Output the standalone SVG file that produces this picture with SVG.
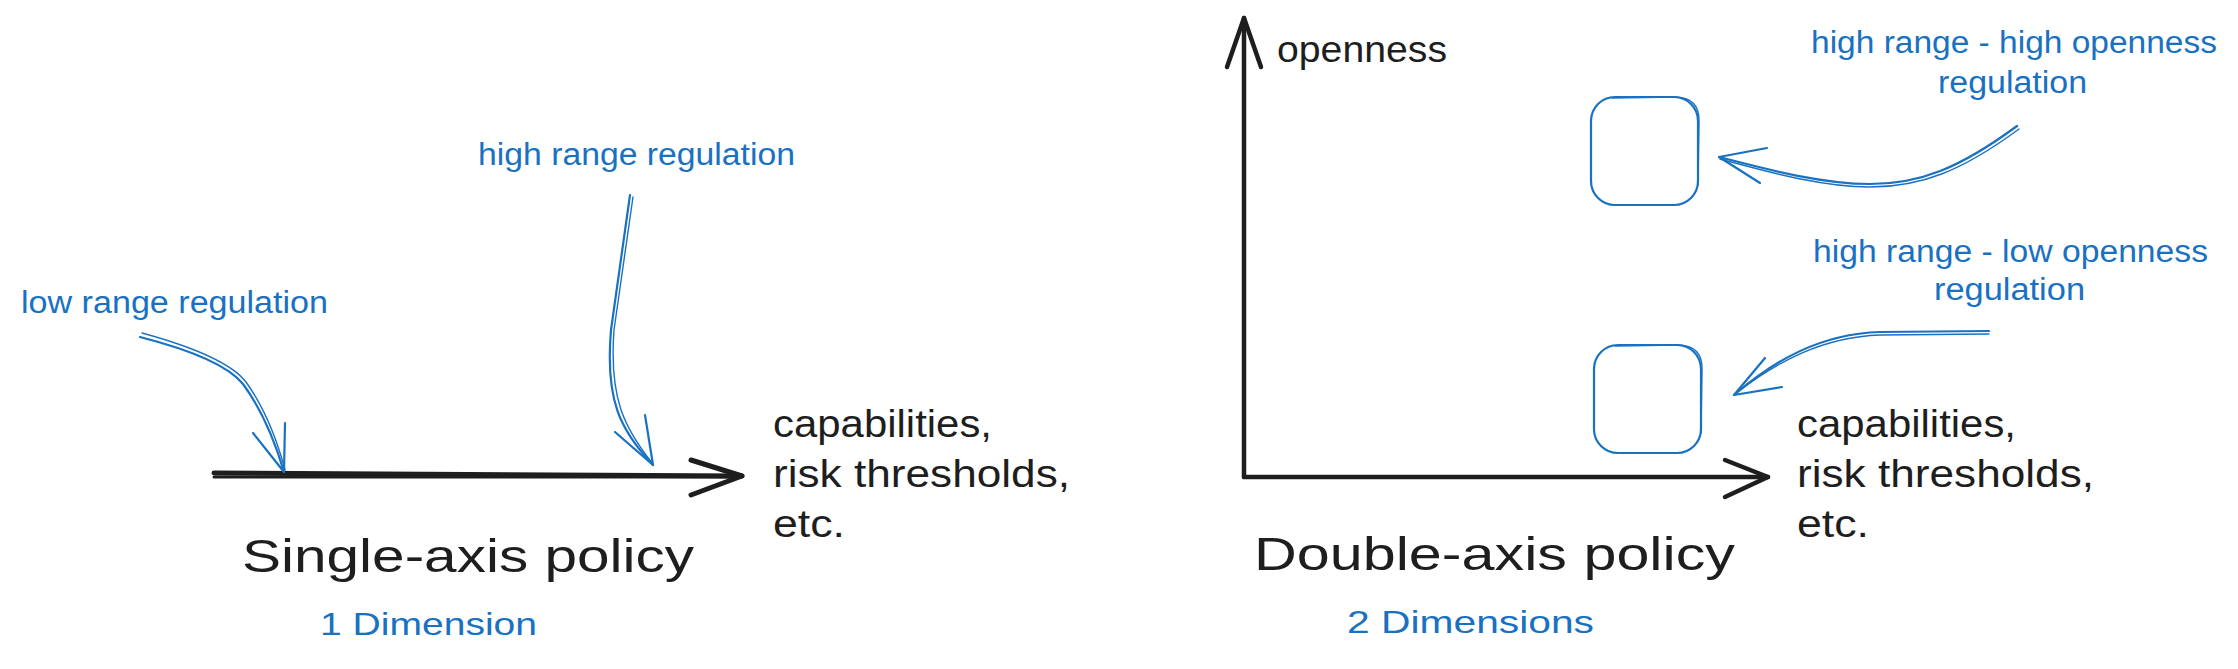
<svg xmlns="http://www.w3.org/2000/svg" width="2238" height="669" viewBox="0 0 2238 669">
<style>
.bg{fill:#ffffff}
.blue{fill:none;stroke:#1971c2;stroke-width:2.2;stroke-linecap:round;stroke-linejoin:round}
.blue2{fill:none;stroke:#1971c2;stroke-width:1.4;stroke-linecap:round;stroke-linejoin:round}
.axis{fill:none;stroke:#1e1e1e;stroke-width:4.5;stroke-linecap:round;stroke-linejoin:round}
.t{font-family:"Liberation Sans",Arial,sans-serif}
.tb{fill:#1971c2}
.tk{fill:#1e1e1e}
</style>
<rect class="bg" x="0" y="0" width="2238" height="669"/>

<g id="connectors">
  <!-- single axis -->
  <path class="axis" d="M214,473 L742,476" style="stroke-width:5"/>
  <path class="axis" d="M214,477 L740,477" style="stroke-width:3"/>
  <path class="axis" d="M691,460 L742,476 L691,495" style="stroke-width:5"/>
  <!-- low range arrow -->
  <path class="blue" d="M140,337 Q222,358 243,384 Q268,418 284,472"/>
  <path class="blue2" d="M142,333 Q226,356 246,382 Q271,417 285,470"/>
  <path class="blue" d="M253,433 L284,472 M285,423 L284,472"/>
  <!-- high range arrow -->
  <path class="blue" d="M630,195 L611,330 C 605,400 620,430 653,465"/>
  <path class="blue2" d="M633,197 L614,330 C 609,398 624,428 653,464"/>
  <path class="blue" d="M615,432 L653,465 M645,415 L653,465"/>
  <!-- double axis -->
  <path class="axis" d="M1244,477 L1244,18"/>
  <path class="axis" d="M1227,67 L1244,18 L1261,67"/>
  <path class="axis" d="M1244,477 L1768,477"/>
  <path class="axis" d="M1725,460 L1768,477 L1725,497"/>
  <!-- upper right arrow -->
  <path class="blue" d="M2017,126 C 1960,168 1920,184 1870,184 C 1820,184 1762,168 1719,157"/>
  <path class="blue2" d="M2019,129 C 1962,171 1921,187 1870,187 C 1819,187 1762,170 1720,159"/>
  <path class="blue" d="M1767,148 L1719,157 L1760,183"/>
  <!-- lower right arrow -->
  <path class="blue" d="M1989,331 L1880,332 C 1820,334 1775,360 1734,395"/>
  <path class="blue2" d="M1989,334 L1880,335 C 1822,337 1777,362 1736,393"/>
  <path class="blue" d="M1765,358 L1734,395 L1782,387"/>
</g>

<g id="box-high-high">
  <rect class="blue" x="1591" y="97" width="107" height="108" rx="24"/>
  <path class="blue2" d="M1612,98 L1676,97 Q1700,98 1699,122 L1698,185"/>
</g>
<g id="box-high-low">
  <rect class="blue" x="1594" y="345" width="107" height="108" rx="24"/>
  <path class="blue2" d="M1615,346 L1679,345 Q1703,346 1702,370 L1701,433"/>
</g>

<g id="label-low-range">
  <text class="t tb" x="21" y="313" font-size="31" textLength="307" lengthAdjust="spacingAndGlyphs">low range regulation</text>
</g>
<g id="label-high-range">
  <text class="t tb" x="478" y="165" font-size="31" textLength="317" lengthAdjust="spacingAndGlyphs">high range regulation</text>
</g>
<g id="label-left-axis">
  <text class="t tk" x="773" y="437" font-size="38" textLength="219" lengthAdjust="spacingAndGlyphs">capabilities,</text>
  <text class="t tk" x="773" y="487" font-size="38" textLength="297" lengthAdjust="spacingAndGlyphs">risk thresholds,</text>
  <text class="t tk" x="773" y="537" font-size="38" textLength="72" lengthAdjust="spacingAndGlyphs">etc.</text>
</g>
<g id="title-single">
  <text class="t tk" x="242" y="572" font-size="47" textLength="452" lengthAdjust="spacingAndGlyphs">Single-axis policy</text>
  <text class="t tb" x="320" y="635" font-size="32" textLength="217" lengthAdjust="spacingAndGlyphs">1 Dimension</text>
</g>

<g id="label-openness">
  <text class="t tk" x="1277" y="62" font-size="36" textLength="170" lengthAdjust="spacingAndGlyphs">openness</text>
</g>
<g id="label-high-high">
  <text class="t tb" x="1811" y="53" font-size="31" textLength="406" lengthAdjust="spacingAndGlyphs">high range - high openness</text>
  <text class="t tb" x="1938" y="93" font-size="31" textLength="149" lengthAdjust="spacingAndGlyphs">regulation</text>
</g>
<g id="label-high-low">
  <text class="t tb" x="1813" y="262" font-size="31" textLength="395" lengthAdjust="spacingAndGlyphs">high range - low openness</text>
  <text class="t tb" x="1934" y="300" font-size="31" textLength="151" lengthAdjust="spacingAndGlyphs">regulation</text>
</g>
<g id="label-right-axis">
  <text class="t tk" x="1797" y="437" font-size="38" textLength="219" lengthAdjust="spacingAndGlyphs">capabilities,</text>
  <text class="t tk" x="1797" y="487" font-size="38" textLength="297" lengthAdjust="spacingAndGlyphs">risk thresholds,</text>
  <text class="t tk" x="1797" y="537" font-size="38" textLength="72" lengthAdjust="spacingAndGlyphs">etc.</text>
</g>
<g id="title-double">
  <text class="t tk" x="1254" y="570" font-size="47" textLength="481" lengthAdjust="spacingAndGlyphs">Double-axis policy</text>
  <text class="t tb" x="1347" y="633" font-size="32" textLength="247" lengthAdjust="spacingAndGlyphs">2 Dimensions</text>
</g>
</svg>
